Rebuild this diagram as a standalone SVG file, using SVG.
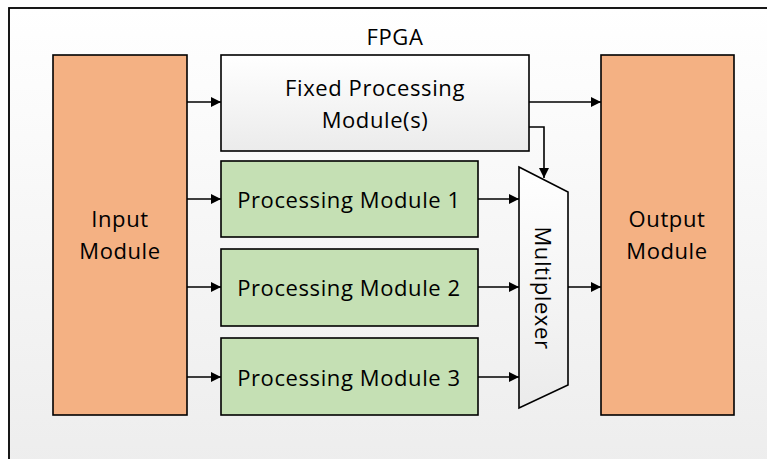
<svg xmlns="http://www.w3.org/2000/svg" width="767" height="459" viewBox="0 0 767 459">
  <defs>
    <linearGradient id="bg" x1="0" y1="0" x2="0" y2="1">
      <stop offset="0" stop-color="#ffffff"/>
      <stop offset="1" stop-color="#ededed"/>
    </linearGradient>
    <linearGradient id="grey" x1="0" y1="0" x2="0" y2="1">
      <stop offset="0" stop-color="#ffffff"/>
      <stop offset="1" stop-color="#ebebeb"/>
    </linearGradient>
    <marker id="arrow" viewBox="0 0 10 10" refX="10" refY="5" markerWidth="11" markerHeight="10" markerUnits="userSpaceOnUse" orient="auto">
      <path d="M0,0 L10,5 L0,10 Z" fill="#000"/>
    </marker>
  </defs>
  <style>
    .box { stroke: #000; stroke-width: 1.6; }
    .orange { fill: #F4B183; }
    .green { fill: #C5E0B4; }
    .grey { fill: url(#grey); }
    .lbl { font-family: "Open Sans", "Liberation Sans", sans-serif; font-size: 22px; letter-spacing: 0.6px; fill: #000; text-anchor: middle; dominant-baseline: central; }
    .wire { fill: none; stroke: #000; stroke-width: 1.6; marker-end: url(#arrow); }
  </style>

  <!-- FPGA enclosure -->
  <g id="fpga">
    <rect x="9" y="8" width="770" height="460" fill="url(#bg)" stroke="#000" stroke-width="1.8"/>
    <text class="lbl" x="395" y="36">FPGA</text>
  </g>

  <g id="input">
    <rect class="box orange" x="53" y="55" width="134" height="360"/>
    <text class="lbl" x="120" y="218">Input</text>
    <text class="lbl" x="120" y="250">Module</text>
  </g>

  <g id="fixed">
    <rect class="box grey" x="221" y="55" width="308" height="96"/>
    <text class="lbl" x="375" y="87">Fixed Processing</text>
    <text class="lbl" x="375" y="119">Module(s)</text>
  </g>

  <g id="pm1">
    <rect class="box green" x="221" y="161" width="257" height="76"/>
    <text class="lbl" x="349" y="199">Processing Module 1</text>
  </g>

  <g id="pm2">
    <rect class="box green" x="221" y="249" width="257" height="77"/>
    <text class="lbl" x="349" y="287">Processing Module 2</text>
  </g>

  <g id="pm3">
    <rect class="box green" x="221" y="338" width="257" height="77"/>
    <text class="lbl" x="349" y="377">Processing Module 3</text>
  </g>

  <g id="mux">
    <path class="box" fill="url(#grey)" d="M519,167 L568,192 L568,385 L519,408 Z"/>
    <text class="lbl" transform="translate(544,288) rotate(90)" x="0" y="0">Multiplexer</text>
  </g>

  <g id="output">
    <rect class="box orange" x="601" y="55" width="133" height="360"/>
    <text class="lbl" x="667" y="218">Output</text>
    <text class="lbl" x="667" y="250">Module</text>
  </g>

  <g id="connectors">
    <path class="wire" d="M187,102 L221,102"/>
    <path class="wire" d="M187,199 L221,199"/>
    <path class="wire" d="M187,287 L221,287"/>
    <path class="wire" d="M187,377 L221,377"/>
    <path class="wire" d="M529,102 L601,102"/>
    <path class="wire" d="M529,127 L544,127 L544,178"/>
    <path class="wire" d="M478,199 L519,199"/>
    <path class="wire" d="M478,287 L519,287"/>
    <path class="wire" d="M478,377 L519,377"/>
    <path class="wire" d="M568,287 L601,287"/>
  </g>
</svg>
